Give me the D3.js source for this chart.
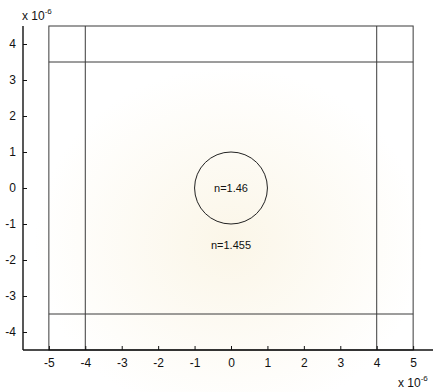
<!DOCTYPE html>
<html>
<head>
<meta charset="utf-8">
<script src="https://cdn.jsdelivr.net/npm/d3@7"></script>
<style>
  body { margin: 0; background: #fff; }
  svg { display: block; font-family: "Liberation Sans", Arial, sans-serif; }
</style>
</head>
<body>
<svg id="vis"></svg>
<script>
const plotWidth = 433;
const plotHeight = 392;

// values in units of 1e-6 m
const xTicks = [-5, -4, -3, -2, -1, 0, 1, 2, 3, 4, 5];
const yTicks = [-4, -3, -2, -1, 0, 1, 2, 3, 4];
const cladBox = [-5, 5, -4.5, 4.5];      // x0, x1, y0, y1
const coreLinesX = [-4, 4];
const coreLinesY = [-3.5, 3.5];
const circle = [0, 0, 1];                 // cx, cy, r
const labels = [
    {text: 'n=1.46', x: 0, y: 0},
    {text: 'n=1.455', x: 0, y: -1.6}
];

const svg = d3.select('#vis')
            .attr('width', plotWidth)
            .attr('height', plotHeight);

// faint scanned-page tint
const defs = svg.append('defs');
const grad = defs.append('radialGradient').attr('id', 'bg')
    .attr('cx', '0.53').attr('cy', '0.62').attr('r', '0.45');
grad.append('stop').attr('offset', '0%').attr('stop-color', '#fbf6e8');
grad.append('stop').attr('offset', '100%').attr('stop-color', '#ffffff');
svg.append('rect').attr('width', plotWidth).attr('height', plotHeight).attr('fill', 'url(#bg)');

const x = d3.scaleLinear().domain([-5.71, 5.71]).range([23, 439]);
const y = d3.scaleLinear().domain([-4.5, 4.5]).range([350, 26]);
const fmt = d => String(d);   // plain hyphen minus, like the original

function main() {
    drawGeometry();
    drawAxes();
}

function drawGeometry() {
    const g = svg.append('g')
        .attr('fill', 'none')
        .attr('stroke', '#3a3a3a')
        .attr('stroke-width', 1);

    g.append('rect')
        .attr('x', x(cladBox[0]))
        .attr('y', y(cladBox[3]))
        .attr('width', x(cladBox[1]) - x(cladBox[0]))
        .attr('height', y(cladBox[2]) - y(cladBox[3]));

    g.selectAll('.vline').data(coreLinesX).enter().append('line')
        .attr('x1', d => x(d)).attr('x2', d => x(d))
        .attr('y1', y(cladBox[3])).attr('y2', y(cladBox[2]));

    g.selectAll('.hline').data(coreLinesY).enter().append('line')
        .attr('x1', x(cladBox[0])).attr('x2', x(cladBox[1]))
        .attr('y1', d => y(d)).attr('y2', d => y(d));

    g.append('ellipse')
        .attr('cx', x(circle[0]))
        .attr('cy', y(circle[1]))
        .attr('rx', x(circle[2]) - x(0))
        .attr('ry', y(0) - y(circle[2]))
        .attr('stroke', '#222');

    svg.selectAll('.lbl').data(labels).enter().append('text')
        .attr('x', d => x(d.x))
        .attr('y', d => y(d.y))
        .attr('dy', '0.35em')
        .attr('text-anchor', 'middle')
        .attr('font-size', 11)
        .attr('fill', '#111')
        .text(d => d.text);
}

function drawAxes() {
    const xAxis = d3.axisBottom(x).tickValues(xTicks).tickSize(-4).tickPadding(8)
        .tickFormat(fmt);
    const gx = svg.append('g').attr('transform', `translate(0,${y(-4.5)})`).call(xAxis);

    const yAxis = d3.axisLeft(y).tickValues(yTicks).tickSize(-4).tickPadding(7)
        .tickFormat(fmt);
    const gy = svg.append('g').attr('transform', `translate(${x(-5.71)},0)`).call(yAxis);

    [gx, gy].forEach(g => {
        g.select('.domain').attr('stroke', '#111').attr('stroke-width', 1.4);
        g.selectAll('.tick line').attr('stroke', '#111');
        g.selectAll('.tick text')
            .attr('font-size', 12)
            .attr('font-family', '"Liberation Sans", Arial, sans-serif')
            .attr('fill', '#111');
    });
    // trim the domains to the visible range
    gy.select('.domain').attr('d', `M0,${y(4.5)}V${y(-4.5)}`);
    gx.select('.domain').attr('d', `M${x(-5.71)},0H${plotWidth}`);

    // exponent labels
    const e1 = svg.append('text').attr('x', 22).attr('y', 20)
        .attr('font-size', 12).attr('fill', '#111');
    e1.append('tspan').text('x 10');
    e1.append('tspan').attr('font-size', 8).attr('dy', -6).text('-6');

    const e2 = svg.append('text').attr('x', 398).attr('y', 387)
        .attr('font-size', 12).attr('fill', '#111');
    e2.append('tspan').text('x 10');
    e2.append('tspan').attr('font-size', 8).attr('dy', -6).text('-6');
}

main();
</script>
</body>
</html>
